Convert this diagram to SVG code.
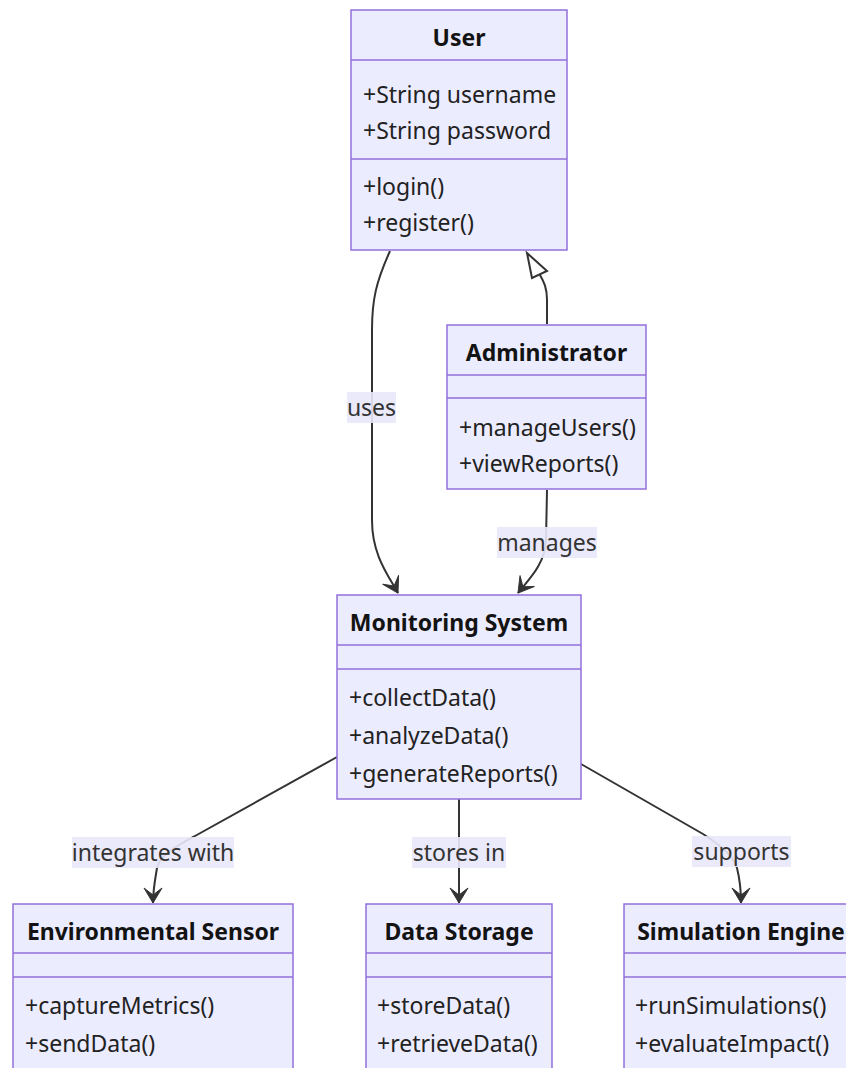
<svg xmlns="http://www.w3.org/2000/svg" width="846" height="1068" viewBox="0 0 846 1068">
  <defs>
    <style>
      .box { fill: #ECECFF; stroke: #9370DB; stroke-width: 1.5; }
      .div { stroke: #9370DB; stroke-width: 1.5; }
      .title { font-family: "Noto Sans", "Open Sans", sans-serif; font-size: 23px; font-weight: bold; fill: #131313; text-anchor: middle; }
      .member { font-family: "Noto Sans", "Open Sans", sans-serif; font-size: 23px; fill: #222222; }
      .edge { fill: none; stroke: #333333; stroke-width: 2; }
      .lblbg { fill: #E8E8FA; opacity: 0.9; }
      .lbl { font-family: "Noto Sans", "Open Sans", sans-serif; font-size: 23px; fill: #333333; text-anchor: middle; }
    </style>
    <marker id="assoc" viewBox="0 0 20 20" refX="18" refY="10" markerWidth="20" markerHeight="20" markerUnits="userSpaceOnUse" orient="auto">
      <path d="M18,10 L3,1 L10,10 L3,19 Z" fill="#333333" stroke="#333333" stroke-width="1" stroke-linejoin="round"/>
    </marker>
  </defs>
  <rect width="846" height="1068" fill="#ffffff"/>

  <!-- connectors -->
  <g id="connectors">
    <!-- User uses Monitoring System -->
    <path class="edge" d="M390,251 C376,282 372,300 372,330 L372,520 C372,555 388,575 398,593" marker-end="url(#assoc)"/>
    <!-- Administrator extends User -->
    <path class="edge" d="M547,324 L547,300 C547,288 544,282 540,275"/>
    <polygon points="527,253 532,278 547,271" fill="#ffffff" stroke="#333333" stroke-width="2" stroke-linejoin="miter"/>
    <!-- Administrator manages Monitoring System -->
    <path class="edge" d="M547,490 L546,540 C545,565 528,580 518,593" marker-end="url(#assoc)"/>
    <!-- Monitoring System to Environmental Sensor -->
    <path class="edge" d="M337,757 L195,836 C175,847 160,855 157,868 C155,880 153,890 153,903" marker-end="url(#assoc)"/>
    <!-- Monitoring System to Data Storage -->
    <path class="edge" d="M459,799 L459,903" marker-end="url(#assoc)"/>
    <!-- Monitoring System to Simulation Engine -->
    <path class="edge" d="M581,764 L703,834 C720,845 733,855 737,868 C740,880 741,890 741,903" marker-end="url(#assoc)"/>

    <!-- edge labels -->
    <rect class="lblbg" x="347" y="392" width="49" height="31"/>
    <text class="lbl" x="371.5" y="416">uses</text>
    <rect class="lblbg" x="497" y="527" width="100" height="31"/>
    <text class="lbl" x="547" y="551">manages</text>
    <rect class="lblbg" x="72" y="837" width="162" height="31"/>
    <text class="lbl" x="153" y="861">integrates with</text>
    <rect class="lblbg" x="412" y="837" width="94" height="31"/>
    <text class="lbl" x="459" y="861">stores in</text>
    <rect class="lblbg" x="692" y="836" width="99" height="31"/>
    <text class="lbl" x="741.5" y="860">supports</text>
  </g>

  <!-- User -->
  <g id="User">
    <rect class="box" x="351" y="10" width="216" height="240"/>
    <line class="div" x1="351" y1="60" x2="567" y2="60"/>
    <line class="div" x1="351" y1="159" x2="567" y2="159"/>
    <text class="title" x="459" y="46">User</text>
    <text class="member" x="363" y="103">+String username</text>
    <text class="member" x="363" y="139">+String password</text>
    <text class="member" x="363" y="195">+login()</text>
    <text class="member" x="363" y="231">+register()</text>
  </g>

  <!-- Administrator -->
  <g id="Administrator">
    <rect class="box" x="447" y="325" width="199" height="164"/>
    <line class="div" x1="447" y1="375" x2="646" y2="375"/>
    <line class="div" x1="447" y1="398" x2="646" y2="398"/>
    <text class="title" x="546.5" y="361">Administrator</text>
    <text class="member" x="459" y="436">+manageUsers()</text>
    <text class="member" x="459" y="472">+viewReports()</text>
  </g>

  <!-- Monitoring System -->
  <g id="MonitoringSystem">
    <rect class="box" x="337" y="595" width="244" height="204"/>
    <line class="div" x1="337" y1="645" x2="581" y2="645"/>
    <line class="div" x1="337" y1="669" x2="581" y2="669"/>
    <text class="title" x="459" y="631">Monitoring System</text>
    <text class="member" x="349" y="706">+collectData()</text>
    <text class="member" x="349" y="744">+analyzeData()</text>
    <text class="member" x="349" y="782">+generateReports()</text>
  </g>

  <!-- Environmental Sensor -->
  <g id="EnvironmentalSensor">
    <rect class="box" x="13" y="904" width="280" height="175"/>
    <line class="div" x1="13" y1="953" x2="293" y2="953"/>
    <line class="div" x1="13" y1="977" x2="293" y2="977"/>
    <text class="title" x="153" y="940">Environmental Sensor</text>
    <text class="member" x="25" y="1014">+captureMetrics()</text>
    <text class="member" x="25" y="1052">+sendData()</text>
  </g>

  <!-- Data Storage -->
  <g id="DataStorage">
    <rect class="box" x="366" y="904" width="186" height="175"/>
    <line class="div" x1="366" y1="953" x2="552" y2="953"/>
    <line class="div" x1="366" y1="977" x2="552" y2="977"/>
    <text class="title" x="459" y="940">Data Storage</text>
    <text class="member" x="377" y="1014">+storeData()</text>
    <text class="member" x="377" y="1052">+retrieveData()</text>
  </g>

  <!-- Simulation Engine -->
  <g id="SimulationEngine">
    <rect class="box" x="624" y="904" width="234" height="175"/>
    <line class="div" x1="624" y1="953" x2="858" y2="953"/>
    <line class="div" x1="624" y1="977" x2="858" y2="977"/>
    <text class="title" x="741" y="940">Simulation Engine</text>
    <text class="member" x="635" y="1014">+runSimulations()</text>
    <text class="member" x="635" y="1052">+evaluateImpact()</text>
  </g>
</svg>
